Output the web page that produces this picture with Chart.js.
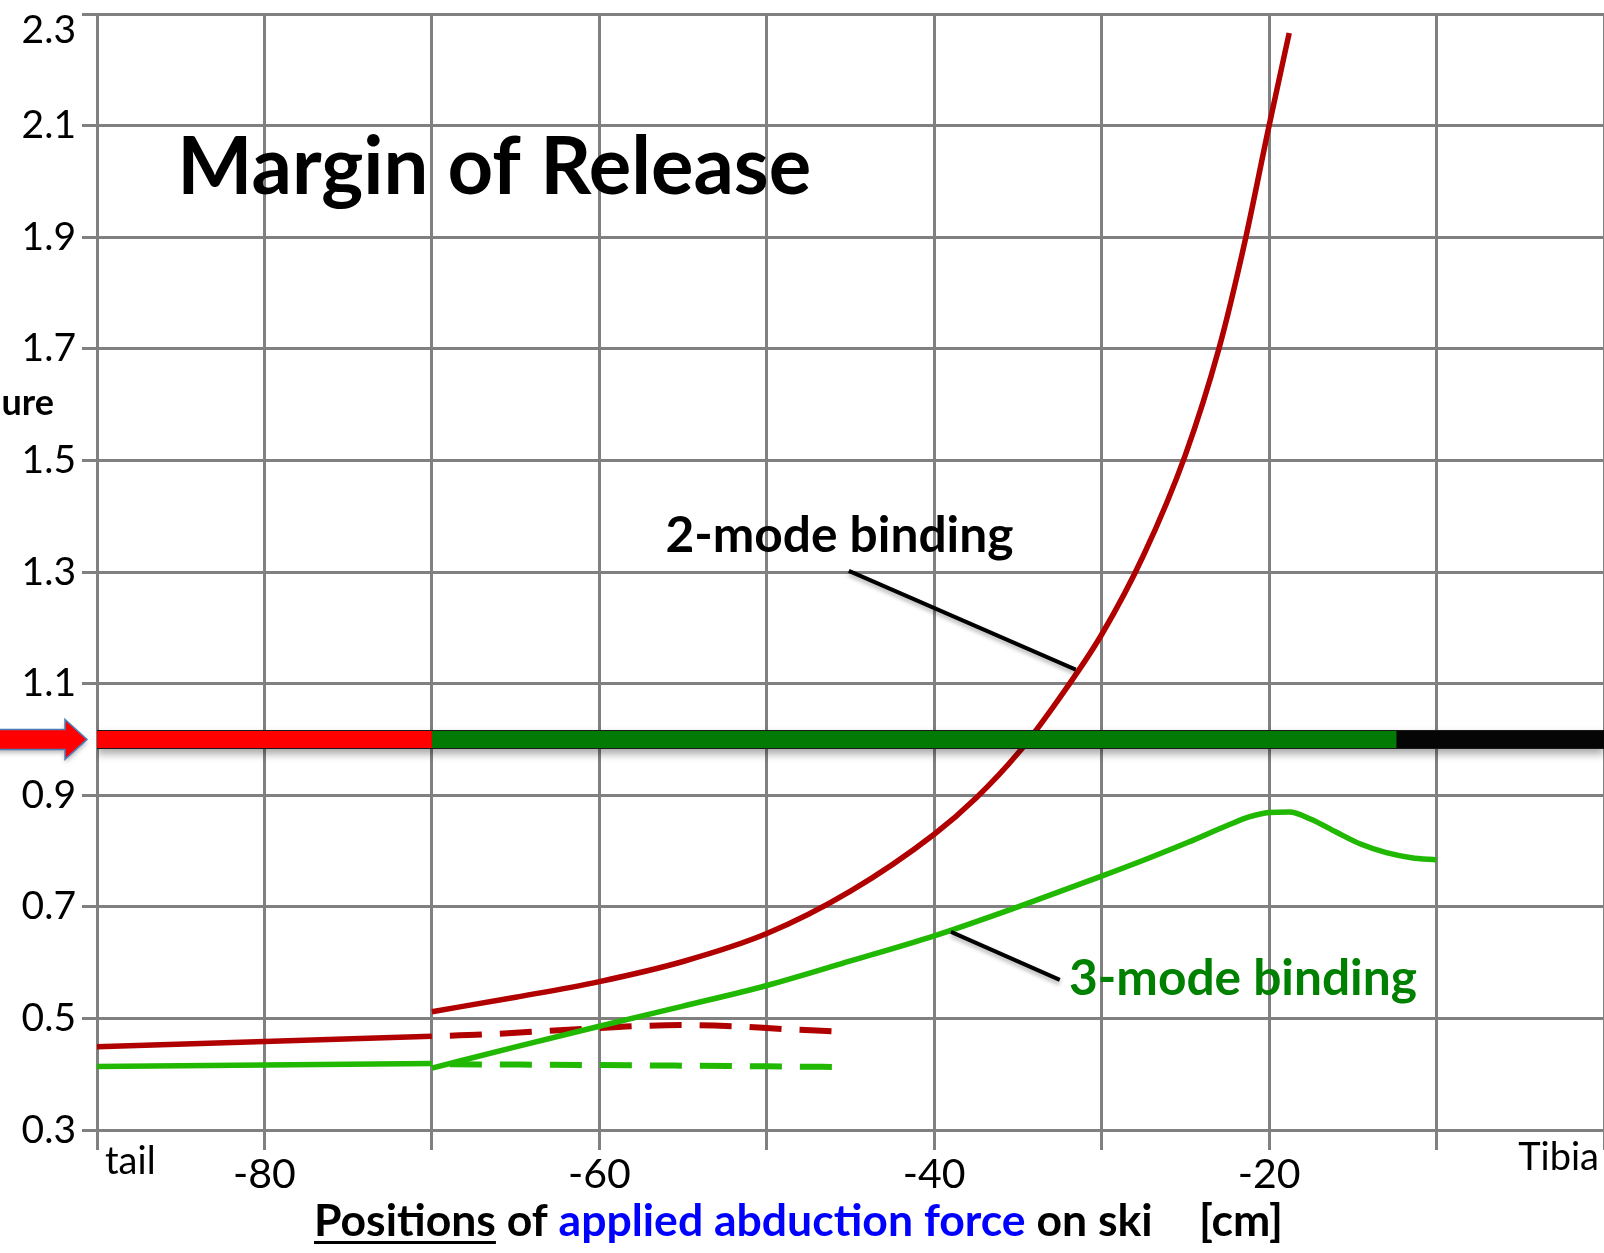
<!DOCTYPE html>
<html>
<head>
<meta charset="utf-8">
<title>Margin of Release</title>
<script src="https://cdn.jsdelivr.net/npm/chart.js@4.4.1/dist/chart.umd.min.js"></script>
<style>
  html, body { margin: 0; padding: 0; background: #fff; }
  canvas { display: block; }
</style>
</head>
<body>
<canvas id="releaseChart" width="1604" height="1253"></canvas>
<script>
/* values: x = position on ski [cm], y = margin of release */

let twoModeTailX = [-90, -70];
let twoModeTailY = [0.449, 0.468];

let twoModeX = [-70, -65, -60, -55, -50, -45, -40, -37.5, -35, -32.5, -30, -27.5, -25, -23, -21.5, -20, -18.8];
let twoModeY = [0.512, 0.538, 0.566, 0.602, 0.652, 0.728, 0.830, 0.895, 0.975, 1.075, 1.188, 1.330, 1.510, 1.700, 1.885, 2.100, 2.266];

let twoModeDashX = [-70, -67, -64, -61, -58, -55, -52, -49, -46.1];
let twoModeDashY = [0.468, 0.471, 0.476, 0.481, 0.486, 0.488, 0.486, 0.481, 0.477];

let threeModeTailX = [-90, -70];
let threeModeTailY = [0.414, 0.419];

let threeModeX = [-70, -65, -60, -55, -50, -45, -40, -35, -30, -27.2, -24.8, -22.4, -21.2, -20, -18.8, -17.5, -16, -14.5, -13, -11.5, -10];
let threeModeY = [0.411, 0.449, 0.486, 0.522, 0.559, 0.603, 0.648, 0.700, 0.755, 0.787, 0.816, 0.847, 0.861, 0.869, 0.870, 0.857, 0.834, 0.812, 0.797, 0.788, 0.784];

let threeModeDashX = [-70, -58, -46.1];
let threeModeDashY = [0.418, 0.416, 0.413];

// the release level bar and where its colour changes
let limitLevel = 1.0;
let limitBreaks = [-90, -70, -12.4, 0];

let xTickLabels = [-80, -60, -40, -20];
let xEndLabels = ['tail', 'Tibia'];

function pts(xs, ys) {
  return xs.map(function (x, i) { return { x: x, y: ys[i] }; });
}
function flat(x0, x1) {
  return pts([x0, x1], [limitLevel, limitLevel]);
}

var RED = '#b00000';
var GREEN = '#20b800';
var GRID = '#808080';

var dash = { borderDash: [32, 18], borderDashOffset: 32 };

/* annotations, arrow and axis texts */

function fitSize(ctx, text, weight, width) {
  ctx.font = weight + ' 100px Lato';
  return 100 * width / ctx.measureText(text).width;
}

var notes = {
  id: 'notes',
  beforeDraw: function (chart) {
    // top tick label sits a bit lower in the picture
    var items = chart.scales.y.getLabelItems(chart.chartArea);
    items.forEach(function (it) {
      if (it.label === '2.3' && !it._moved) {
        it.options.translation[1] += 16;
        it._moved = true;
      }
    });
  },
  beforeDatasetDraw: function (chart, args) {
    if (chart.data.datasets[args.index].label === 'limit outline') {
      chart.ctx.shadowColor = 'rgba(0,0,0,0.35)';
      chart.ctx.shadowBlur = 8;
      chart.ctx.shadowOffsetY = 5;
    }
  },
  afterDatasetDraw: function (chart) {
    chart.ctx.shadowColor = 'rgba(0,0,0,0)';
    chart.ctx.shadowBlur = 0;
    chart.ctx.shadowOffsetY = 0;
  },
  afterDraw: function (chart) {
    var ctx = chart.ctx;
    var x = chart.scales.x, y = chart.scales.y;
    var area = chart.chartArea;
    function px(v) { return x.getPixelForValue(v); }
    function py(v) { return y.getPixelForValue(v); }

    ctx.save();

    // arrow pointing at the release level
    var ay = py(limitLevel);
    var tip = area.left - 10;
    ctx.shadowColor = 'rgba(0,0,0,0.3)';
    ctx.shadowBlur = 5;
    ctx.shadowOffsetY = 3;
    ctx.beginPath();
    ctx.moveTo(-5, ay - 10);
    ctx.lineTo(tip - 22, ay - 10);
    ctx.lineTo(tip - 22, ay - 20);
    ctx.lineTo(tip, ay);
    ctx.lineTo(tip - 22, ay + 20);
    ctx.lineTo(tip - 22, ay + 10);
    ctx.lineTo(-5, ay + 10);
    ctx.closePath();
    ctx.fillStyle = '#ff0000';
    ctx.fill();
    ctx.shadowColor = 'rgba(0,0,0,0)';
    ctx.strokeStyle = '#4a7ebb';
    ctx.lineWidth = 1.5;
    ctx.stroke();

    // leader lines
    ctx.shadowColor = 'rgba(0,0,0,0.3)';
    ctx.shadowBlur = 4;
    ctx.shadowOffsetY = 3;
    ctx.strokeStyle = '#000';
    ctx.lineWidth = 4;
    ctx.beginPath();
    ctx.moveTo(px(-45.1), py(1.302));
    ctx.lineTo(px(-31.55), py(1.125));
    ctx.moveTo(px(-39.0), py(0.655));
    ctx.lineTo(px(-32.5), py(0.569));
    ctx.stroke();
    ctx.shadowColor = 'rgba(0,0,0,0)';
    ctx.shadowBlur = 0;
    ctx.shadowOffsetY = 0;

    ctx.textAlign = 'left';
    ctx.textBaseline = 'alphabetic';

    // chart title
    var s = fitSize(ctx, 'Margin of Release', 'bold', 634);
    ctx.font = 'bold ' + s + 'px Lato';
    ctx.fillStyle = '#000';
    ctx.fillText('Margin of Release', px(-85.2), py(1.977));

    s = fitSize(ctx, '2-mode binding', 'bold', 348);
    ctx.font = 'bold ' + s + 'px Lato';
    ctx.fillStyle = '#000';
    ctx.fillText('2-mode binding', px(-56.05), py(1.336));

    ctx.fillStyle = '#008000';
    ctx.fillText('3-mode binding', px(-31.95), py(0.542));

    // ends of the x axis
    ctx.fillStyle = '#000';
    ctx.font = '38px Lato';
    ctx.fillText(xEndLabels[0], area.left + 8, area.bottom + 44);
    ctx.textAlign = 'right';
    ctx.fillText(xEndLabels[1], area.right - 5, area.bottom + 40);

    // what is left of the y axis title
    ctx.font = 'bold 36px Lato';
    ctx.fillText('ure', 54, 415);

    // x axis title in several colours
    ctx.textAlign = 'left';
    var parts = [
      ['Positions', '#000'],
      [' of ', '#000'],
      ['applied abduction force', '#0000ff'],
      [' on ski', '#000']
    ];
    var whole = parts.map(function (p) { return p[0]; }).join('');
    s = fitSize(ctx, whole, 'bold', 839);
    ctx.font = 'bold ' + s + 'px Lato';
    var base = area.bottom + 106;
    var cx = 314;
    parts.forEach(function (p, i) {
      ctx.fillStyle = p[1];
      ctx.fillText(p[0], cx, base);
      var w = ctx.measureText(p[0]).width;
      if (i === 0) {
        ctx.fillRect(cx, base + 5, w, 3);
      }
      cx += w;
    });
    ctx.fillStyle = '#000';
    ctx.fillText('[cm]', 1199, base);

    ctx.restore();
  }
};

var ctx = document.getElementById('releaseChart');

var releaseChart = new Chart(ctx, {
  type: 'line',
  data: {
    datasets: [
      { label: 'limit red', data: flat(limitBreaks[0], limitBreaks[1]), borderColor: '#ff0000', borderWidth: 17, order: 1 },
      { label: 'limit green', data: flat(limitBreaks[1], limitBreaks[2]), borderColor: '#037a03', borderWidth: 17, order: 1 },
      { label: 'limit black', data: flat(limitBreaks[2], limitBreaks[3]), borderColor: '#050505', borderWidth: 17, order: 1 },
      { label: 'limit outline', data: flat(limitBreaks[0], limitBreaks[3]), borderColor: '#1a1a1a', borderWidth: 19, order: 2 },
      { label: '3-mode tail', data: pts(threeModeTailX, threeModeTailY), borderColor: GREEN, borderWidth: 5.5, order: 3 },
      { label: '3-mode binding', data: pts(threeModeX, threeModeY), borderColor: GREEN, borderWidth: 5.5, cubicInterpolationMode: 'monotone', order: 3 },
      { label: '2-mode tail', data: pts(twoModeTailX, twoModeTailY), borderColor: RED, borderWidth: 5.5, order: 4 },
      { label: '2-mode binding', data: pts(twoModeX, twoModeY), borderColor: RED, borderWidth: 5.5, cubicInterpolationMode: 'monotone', order: 4 },
      Object.assign({ label: '2-mode dashed', data: pts(twoModeDashX, twoModeDashY), borderColor: RED, borderWidth: 6, cubicInterpolationMode: 'monotone', order: 5 }, dash),
      Object.assign({ label: '3-mode dashed', data: pts(threeModeDashX, threeModeDashY), borderColor: GREEN, borderWidth: 6, cubicInterpolationMode: 'monotone', order: 5 }, dash)
    ],
  },
  options: {
    responsive: false,
    animation: false,
    events: [],
    layout: { padding: { top: 14, left: 0, right: 0, bottom: 0 } },
    elements: { point: { radius: 0 }, line: { tension: 0.4, fill: false } },
    plugins: { legend: { display: false }, tooltip: { enabled: false } },
    scales: {
      x: {
        type: 'linear',
        min: -90,
        max: 0,
        ticks: {
          stepSize: 10,
          autoSkip: false,
          maxRotation: 0,
          padding: 0,
          color: '#000',
          font: { family: 'Lato', size: 41 },
          callback: function (v) { return xTickLabels.indexOf(v) >= 0 ? String(v) : ''; }
        },
        grid: { color: GRID, lineWidth: 3, tickLength: 20, tickColor: GRID },
        border: { display: false },
        afterFit: function (s) { s.height = 123; s.paddingLeft = 0; s.paddingRight = 0; }
      },
      y: {
        min: 0.3,
        max: 2.3,
        ticks: {
          stepSize: 0.2,
          padding: 6,
          color: '#000',
          font: { family: 'Lato', size: 39 },
          callback: function (v) { return v.toFixed(1); }
        },
        grid: { color: GRID, lineWidth: 3, tickLength: 15, tickColor: GRID },
        border: { display: false },
        afterFit: function (s) { s.width = 97; s.paddingTop = 0; s.paddingBottom = 0; }
      }
    }
  },
  plugins: [notes]
});
</script>
</body>
</html>
